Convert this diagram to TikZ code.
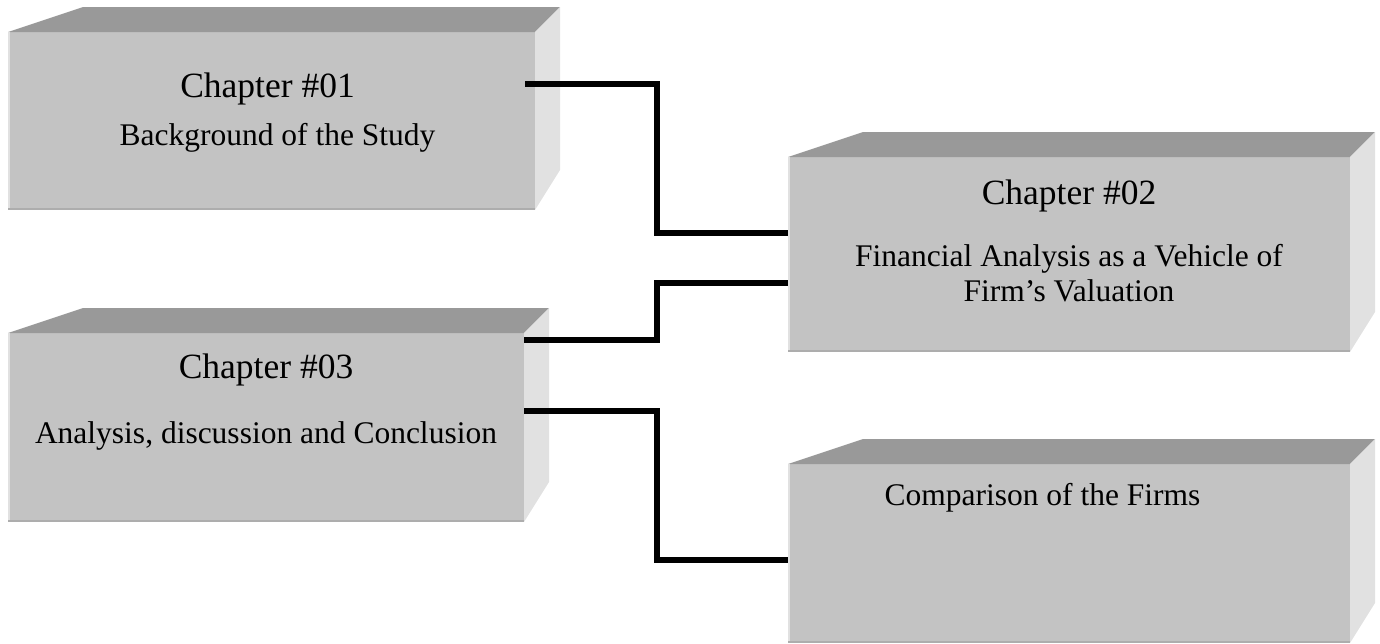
\documentclass[tikz,border=0pt]{standalone}
\usepackage{fontspec}
\setmainfont{Liberation Serif}
\usepackage{tikz}
\usetikzlibrary{calc,positioning}
\definecolor{facefront}{HTML}{C3C3C3}
\definecolor{facetop}{HTML}{999999}
\definecolor{faceside}{HTML}{E1E1E1}
\tikzset{%
	front/.style    = {fill=facefront, rectangle, inner sep=0pt, outer sep=0pt}, % front face
	topface/.style  = {fill=facetop}, % top face
	sideface/.style = {fill=faceside}, % side face
	edgelight/.style = {draw=faceside, line width=2pt},
	edgedark/.style = {draw=black!32, line width=2pt},
	head/.style     = {font=\fontsize{35.5}{42}\selectfont, anchor=base},
	body/.style     = {font=\fontsize{31.5}{35}\selectfont, anchor=base, align=center},
	link/.style     = {line width=6.5pt},
}

\begin{document}
\begin{tikzpicture}[x=1pt,y=-1pt]
		\useasboundingbox (0,0) rectangle (1380,643);
		\node [front,minimum width=527pt,minimum height=178pt] (ch1) at (271.5,121) {};
		\node [front,minimum width=562pt,minimum height=195pt] (ch2) at (1069,254.5) {};
		\node [front,minimum width=516pt,minimum height=189pt] (ch3) at (266,427.5) {};
		\node [front,minimum width=562pt,minimum height=179pt] (ch4) at (1069,553.5) {};
		
		\foreach \b in {ch1,ch2,ch3,ch4} {
			\fill[topface] (\b.north west) -- ++(75,-25) -- ($(\b.north east)+(25,-25)$) -- (\b.north east) -- cycle;
			\fill[sideface] (\b.north east) -- ++(25,-25) -- ($(\b.south east)+(25,-40)$) -- (\b.south east) -- cycle;
			\draw[edgelight] ($(\b.north west)+(1,0)$) -- ($(\b.south west)+(1,0)$);
			\draw[edgedark] ($(\b.south west)+(0,-1)$) -- ($(\b.south east)+(0,-1)$);
		}
		
		\node [head] (t1) at ($(ch1.north)+(-4,65)$) {Chapter \#01};
		\node [body] (d1) at ($(ch1.north)+(6,113)$) {Background of the Study};
		\node [head] (t2) at ($(ch2.north)+(0,47)$) {Chapter \#02};
		\node [body] (d2) at ($(ch2.north)+(0,144)$) {Financial Analysis as a Vehicle of\\Firm’s Valuation};
		\node [head] (t3) at ($(ch3.north)+(0,45)$) {Chapter \#03};
		\node [body] (d3) at ($(ch3.north)+(0,110)$) {Analysis, discussion and Conclusion};
		\node [body,anchor=base west] (d4) at ($(ch4.north west)+(93,41)$) {Comparison of the Firms};
		
		\draw[link] ($(ch1.north east)+(-10,52)$) -- ++(132,0) |- ($(ch2.north west)+(0,76)$);
		\draw[link] ($(ch3.north east)+(0,7)$) -- ++(133,0) |- ($(ch2.north west)+(0,126)$);
		\draw[link] ($(ch3.north east)+(0,78)$) -- ++(133,0) |- ($(ch4.north west)+(0,96)$);
\end{tikzpicture}
\end{document}
